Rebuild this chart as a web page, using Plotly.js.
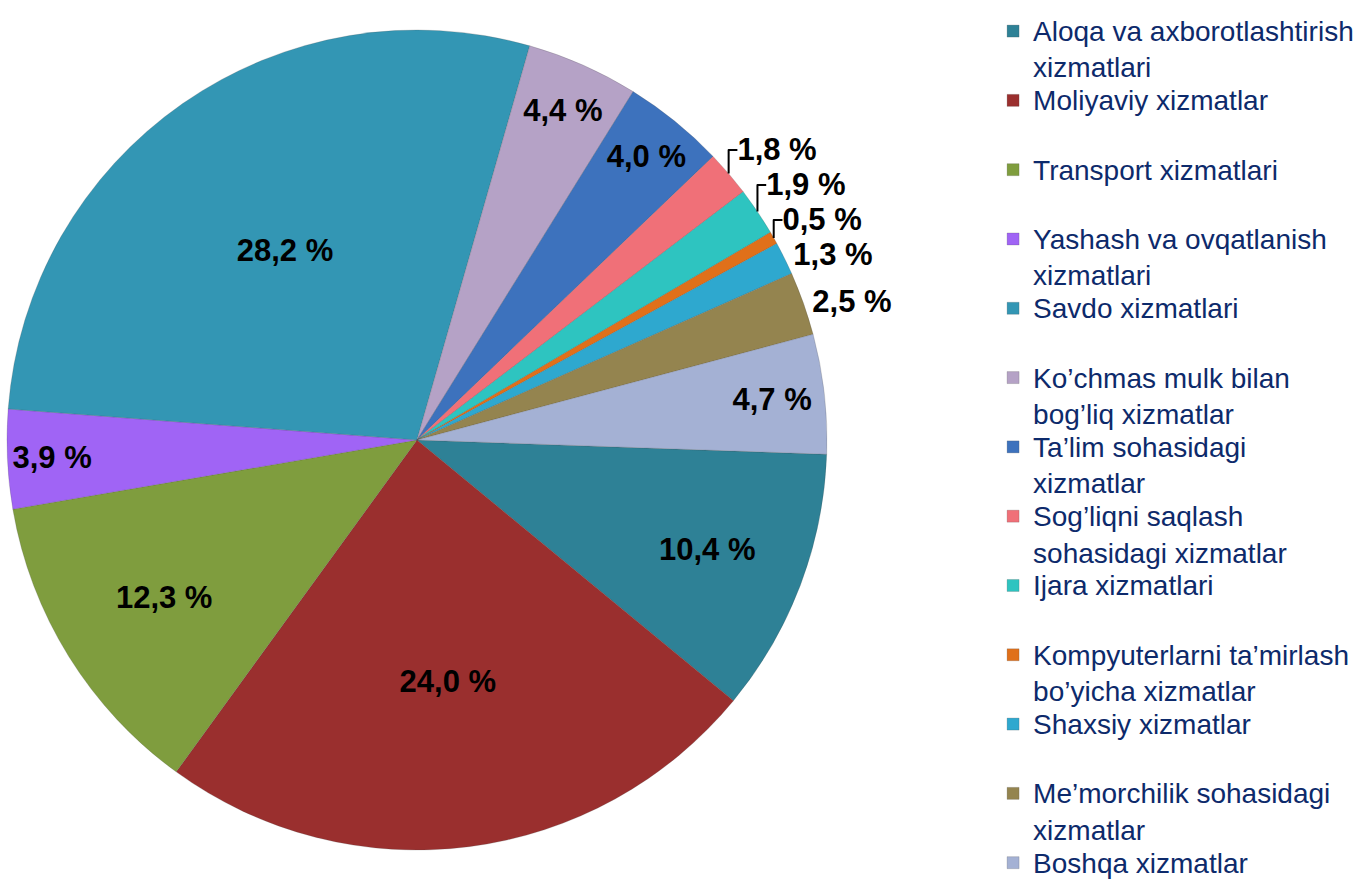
<!DOCTYPE html>
<html>
<head>
<meta charset="utf-8">
<script src="https://cdn.plot.ly/plotly-3.0.1.min.js"></script>
<style>
html,body{margin:0;padding:0;background:#fff;}
#chart{width:1366px;height:880px;}
/* larger glyphs in the legend while keeping Plotly's entry spacing */
#chart .legend .legendtext{font-size:28px !important;}
#chart .legend .scrollbox{clip-path:none !important; transform:translate(0px, 8px) !important;}
#chart .legend .scrollbar{display:none !important;}
</style>
</head>
<body>
<div id="chart"></div>
<script>
// Service categories (legend order = slice order, clockwise)
const categories = [
  "Aloqa va axborotlashtirish<br>xizmatlari",
  "Moliyaviy xizmatlar<br> ",
  "Transport xizmatlari<br> ",
  "Yashash va ovqatlanish<br>xizmatlari",
  "Savdo xizmatlari<br> ",
  "Ko’chmas mulk bilan<br>bog’liq xizmatlar",
  "Ta’lim sohasidagi<br>xizmatlar",
  "Sog’liqni saqlash<br>sohasidagi xizmatlar",
  "Ijara xizmatlari<br> ",
  "Kompyuterlarni ta’mirlash<br>bo’yicha xizmatlar",
  "Shaxsiy xizmatlar<br> ",
  "Me’morchilik sohasidagi<br>xizmatlar",
  "Boshqa xizmatlar"
];
// Share of services, percent
const shares = [10.4, 24.0, 12.3, 3.9, 28.2, 4.4, 4.0, 1.8, 1.9, 0.5, 1.3, 2.5, 4.7];
const colors = ["#2e8196", "#9a2f2e", "#7f9d3e", "#a064f5", "#3396b4", "#b5a2c6",
                "#3d72bd", "#f07078", "#2ec4c0", "#e0701a", "#2ea8cf", "#94844f", "#a4b1d4"];
const positions = ["inside","inside","inside","inside","inside","inside","inside",
                   "outside","outside","outside","outside","outside","inside"];

const labelsText = shares.map(v => v.toFixed(1).replace('.', ',') + ' %');

const labelFont = {family: 'Liberation Sans, Arial, sans-serif', size: 31, color: '#000', weight: 'bold'};

const trace = {
  type: 'pie',
  labels: categories,
  values: shares,
  text: labelsText,
  textinfo: 'text',
  textposition: positions,
  insidetextorientation: 'horizontal',
  sort: false,
  direction: 'clockwise',
  rotation: 92,
  marker: {colors: colors, line: {color: 'rgba(70,70,70,0.35)', width: 0.6}},
  textfont: labelFont,
  insidetextfont: labelFont,
  outsidetextfont: labelFont,
  domain: {x: [0.0051, 0.6054], y: [0.034, 0.966]},
  hoverinfo: 'skip'
};

const layout = {
  width: 1366,
  height: 880,
  margin: {l: 0, r: 0, t: 0, b: 0},
  paper_bgcolor: '#fff',
  showlegend: true,
  legend: {
    x: 0.727, xanchor: 'left',
    y: 1, yanchor: 'top',
    valign: 'top',
    font: {family: 'Liberation Sans, Arial, sans-serif', size: 25.5, color: '#0d2a6b'},
    bgcolor: 'rgba(0,0,0,0)'
  }
};

Plotly.newPlot('chart', [trace], layout, {displayModeBar: false, staticPlot: true});
</script>
</body>
</html>
